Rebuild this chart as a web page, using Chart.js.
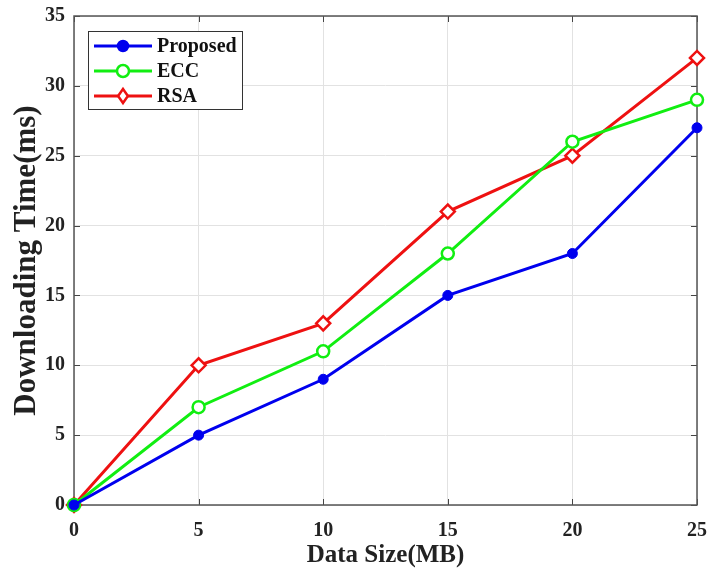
<!DOCTYPE html>
<html>
<head>
<meta charset="utf-8">
<script src="https://cdn.jsdelivr.net/npm/chart.js@4"></script>
<style>
  html, body { margin: 0; padding: 0; background: #fff; }
  #wrap { width: 708px; height: 575px; }
</style>
</head>
<body>
<div id="wrap"><canvas id="chart" width="708" height="575"></canvas></div>
<script>
// data
const dataSizes = [0, 5, 10, 15, 20, 25];
const proposed = [0, 5, 9, 15, 18, 27];
const ecc = [0, 7, 11, 18, 26, 29];
const rsa = [0, 10, 13, 21, 25, 32];
const seriesNames = ['Proposed', 'ECC', 'RSA'];

const FONT = '"Liberation Serif", "Times New Roman", serif';

function toPoints(vals) {
    return dataSizes.map((x, i) => ({ x: x, y: vals[i] }));
}

// legend box drawn inside the plot, top-left (like matlab)
const insideLegend = {
    id: 'insideLegend',
    afterDraw(chart) {
        const ctx = chart.ctx;
        const x0 = 88, y0 = 31, w = 154, h = 78;
        ctx.save();
        ctx.fillStyle = '#fff';
        ctx.fillRect(x0, y0, w, h);
        ctx.strokeStyle = '#333';
        ctx.lineWidth = 1;
        ctx.strokeRect(x0 + 0.5, y0 + 0.5, w, h);
        ctx.font = 'bold 20px ' + FONT;
        ctx.textBaseline = 'middle';
        chart.data.datasets.forEach((ds, i) => {
            const cy = y0 + 15 + i * 25;
            ctx.strokeStyle = ds.borderColor;
            ctx.lineWidth = 3;
            ctx.beginPath();
            ctx.moveTo(x0 + 6, cy);
            ctx.lineTo(x0 + 64, cy);
            ctx.stroke();
            const mx = x0 + 35;
            ctx.lineWidth = 2.5;
            if (ds.pointStyle === 'rectRot') {
                const r = 7;
                ctx.beginPath();
                ctx.moveTo(mx, cy - r);
                ctx.lineTo(mx + r * 0.7, cy);
                ctx.lineTo(mx, cy + r);
                ctx.lineTo(mx - r * 0.7, cy);
                ctx.closePath();
                ctx.fillStyle = '#fff';
                ctx.fill();
                ctx.stroke();
            } else {
                ctx.beginPath();
                ctx.arc(mx, cy, ds.pointRadius, 0, 2 * Math.PI);
                ctx.fillStyle = ds.pointBackgroundColor;
                ctx.fill();
                ctx.stroke();
            }
            ctx.fillStyle = '#111';
            ctx.fillText(seriesNames[i], x0 + 69, cy + 1);
        });
        ctx.restore();
    }
};

// box around plot + small inward ticks
const plotFrame = {
    id: 'plotFrame',
    beforeDatasetsDraw(chart) {
        const { ctx, chartArea: a, scales } = chart;
        ctx.save();
        ctx.strokeStyle = '#444';
        ctx.lineWidth = 1;
        ctx.beginPath();
        scales.x.ticks.forEach(t => {
            const px = Math.round(scales.x.getPixelForValue(t.value)) + 0.5;
            ctx.moveTo(px, a.bottom); ctx.lineTo(px, a.bottom - 6);
            ctx.moveTo(px, a.top); ctx.lineTo(px, a.top + 6);
        });
        scales.y.ticks.forEach(t => {
            const py = Math.round(scales.y.getPixelForValue(t.value)) + 0.5;
            ctx.moveTo(a.left, py); ctx.lineTo(a.left + 6, py);
            ctx.moveTo(a.right, py); ctx.lineTo(a.right - 6, py);
        });
        ctx.stroke();
        ctx.lineWidth = 1.5;
        ctx.strokeStyle = '#555';
        ctx.strokeRect(a.left, a.top, a.right - a.left, a.bottom - a.top);
        ctx.restore();
    }
};

window.onload = () => {
    const ctx = document.getElementById('chart').getContext('2d');
    new Chart(ctx, {
        type: 'line',
        data: {
            datasets: [{
                label: seriesNames[0],
                data: toPoints(proposed),
                borderColor: '#0000ee',
                backgroundColor: '#0000ee',
                pointBackgroundColor: '#0000ee',
                pointStyle: 'circle',
                pointRadius: 5,
                borderWidth: 3,
                pointBorderWidth: 1,
                tension: 0
            }, {
                label: seriesNames[1],
                data: toPoints(ecc),
                borderColor: '#11ee11',
                backgroundColor: '#11ee11',
                pointBackgroundColor: '#ffffff',
                pointStyle: 'circle',
                pointRadius: 6,
                borderWidth: 3,
                pointBorderWidth: 2.5,
                tension: 0
            }, {
                label: seriesNames[2],
                data: toPoints(rsa),
                borderColor: '#ee1111',
                backgroundColor: '#ee1111',
                pointBackgroundColor: '#ffffff',
                pointStyle: 'rectRot',
                pointRadius: 7,
                borderWidth: 3,
                pointBorderWidth: 2.5,
                tension: 0
            }]
        },
        options: {
            responsive: false,
            animation: false,
            clip: false,
            layout: { padding: { top: 16, right: 11, left: 0, bottom: 0 } },
            plugins: {
                legend: { display: false },
                tooltip: { enabled: false }
            },
            scales: {
                x: {
                    type: 'linear',
                    min: 0,
                    max: 25,
                    ticks: {
                        stepSize: 5,
                        color: '#222',
                        padding: 14,
                        font: { family: FONT, size: 20, weight: 'bold' }
                    },
                    grid: { color: '#e2e2e2', drawTicks: false },
                    border: { display: false },
                    title: {
                        display: true,
                        text: 'Data Size(MB)',
                        color: '#222',
                        padding: { top: 2 },
                        font: { family: FONT, size: 25, weight: 'bold' }
                    },
                    afterFit(scale) {
                        scale.height = 70;
                        scale.paddingLeft = 0;
                        scale.paddingRight = 0;
                    }
                },
                y: {
                    min: 0,
                    max: 35,
                    ticks: {
                        stepSize: 5,
                        color: '#222',
                        padding: 9,
                        font: { family: FONT, size: 20, weight: 'bold' }
                    },
                    grid: { color: '#e2e2e2', drawTicks: false },
                    border: { display: false },
                    title: {
                        display: true,
                        text: 'Downloading Time(ms)',
                        color: '#222',
                        padding: { top: 8, bottom: 0 },
                        font: { family: FONT, size: 31, weight: 'bold' }
                    },
                    afterFit(scale) {
                        scale.width = 74;
                        scale.paddingTop = 0;
                        scale.paddingBottom = 0;
                    }
                }
            }
        },
        plugins: [plotFrame, insideLegend]
    });
};
</script>
</body>
</html>
